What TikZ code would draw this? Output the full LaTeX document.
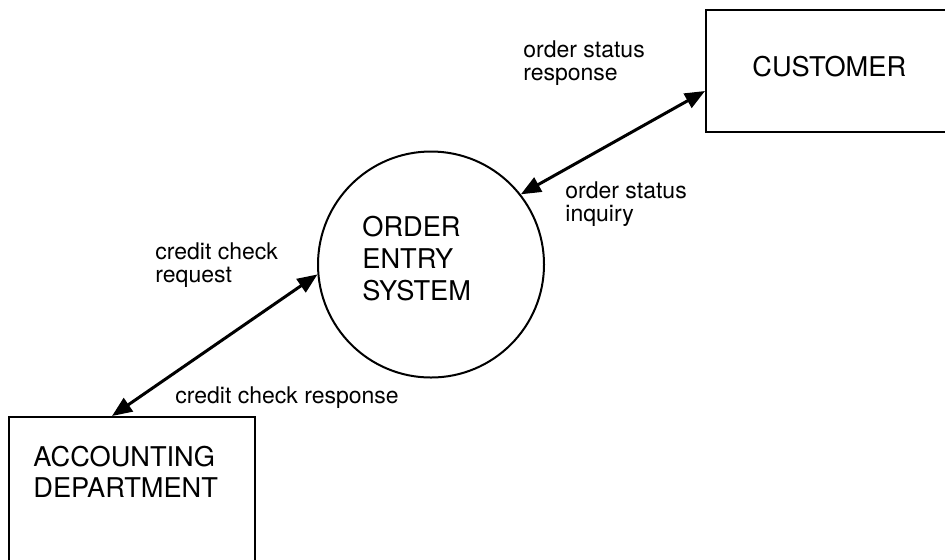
\documentclass[tikz,border=0pt]{standalone}
\usepackage{fontspec}
\setmainfont{TeX Gyre Heros}
\usetikzlibrary{arrows.meta,positioning}

\begin{document}
\begin{tikzpicture}[x=0.5pt, y=-0.5pt,
  ent/.style={draw, line width=1pt, inner sep=0pt},
  proc/.style={draw, circle, line width=1pt, minimum size=113pt, inner sep=0pt},
  big/.style={font=\fontsize{13.6}{15.5}\selectfont, align=left,
              anchor=base west, inner sep=0pt},
  lbl/.style={font=\fontsize{11.5}{11.5}\selectfont, align=left,
              anchor=base west, inner sep=0pt},
  flow/.style={line width=1.5pt, {Triangle[length=10pt,width=8pt]}-{Triangle[length=10pt,width=8pt]}}]
  \useasboundingbox (0,0) rectangle (945,559);
  % external entities and process
  \node[ent, minimum width=122pt, minimum height=61pt] (cust) at (828,71) {};
  \node[ent, minimum width=123pt, minimum height=81.5pt] (acct) at (132,498.5) {};
  \node[proc] (oes) at (431,264.5) {};
  % (multi-line text sits on the baseline of its last line)
  \node[big] (custtxt) at (752,76) {CUSTOMER};
  \node[big] (accttxt) at (33,497) {ACCOUNTING\\DEPARTMENT};
  \node[big, font=\fontsize{13.6}{16}\selectfont] (oestxt) at (362,300) {ORDER\\ENTRY\\SYSTEM};
  % data flows
  \draw[flow] ([yshift=-10pt]cust.west) -- (oes.38);
  \draw[flow] ([xshift=-10pt]acct.north) -- (oes.185);
  % flow labels
  \node[lbl] (osr) at (523,80)  {order status\\response};
  \node[lbl] (osi) at (565,221) {order status\\inquiry};
  \node[lbl] (ccq) at (155,282) {credit check\\request};
  \node[lbl] (ccr) at (175,403) {credit check response};
\end{tikzpicture}
\end{document}
